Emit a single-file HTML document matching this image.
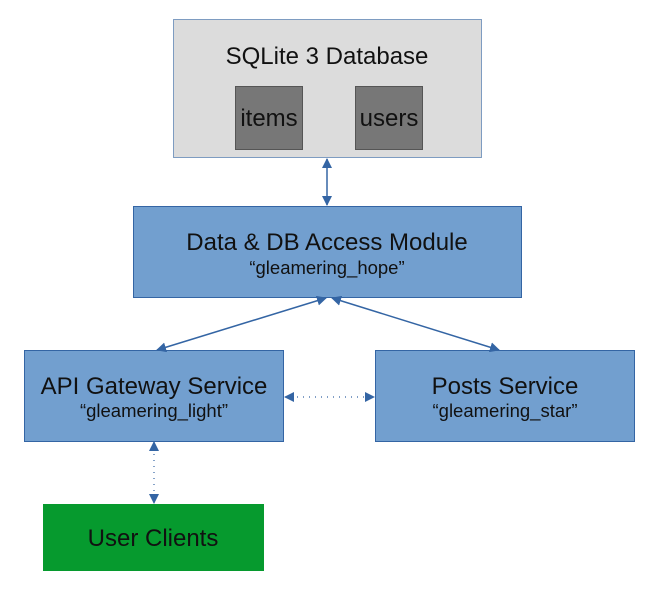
<!DOCTYPE html>
<html><head><meta charset="utf-8"><style>
html,body{margin:0;padding:0;background:#fff;}
svg{display:block;}
text{font-family:"Liberation Sans",sans-serif;fill:#111;}
</style></head><body>
<svg width="653" height="595" viewBox="0 0 653 595" xmlns="http://www.w3.org/2000/svg">
<defs>
<marker id="a" markerWidth="10" markerHeight="10" refX="9" refY="5" orient="auto-start-reverse" markerUnits="userSpaceOnUse">
<path d="M0,0 L10,5 L0,10 z" fill="#3465a4"/></marker>
</defs>
<rect x="173.5" y="19.5" width="308" height="138" fill="#dcdcdc" stroke="#3465a4" stroke-opacity="0.6"/>
<text x="327" y="64" font-size="24" text-anchor="middle">SQLite 3 Database</text>
<rect x="235.5" y="86.5" width="67" height="63" fill="#777" stroke="#555"/>
<rect x="355.5" y="86.5" width="67" height="63" fill="#777" stroke="#555"/>
<text x="269" y="126" font-size="24" text-anchor="middle">items</text>
<text x="389" y="126" font-size="24" text-anchor="middle">users</text>

<rect x="133.5" y="206.5" width="388" height="91" fill="#729fcf" stroke="#3465a4"/>
<text x="327" y="250" font-size="24" text-anchor="middle">Data &amp; DB Access Module</text>
<text x="327" y="274" font-size="18.5" text-anchor="middle">“gleamering_hope”</text>

<rect x="24.5" y="350.5" width="259" height="91" fill="#729fcf" stroke="#3465a4"/>
<text x="154" y="394" font-size="24" text-anchor="middle">API Gateway Service</text>
<text x="154" y="417" font-size="18.5" text-anchor="middle">“gleamering_light”</text>

<rect x="375.5" y="350.5" width="259" height="91" fill="#729fcf" stroke="#3465a4"/>
<text x="505" y="394" font-size="24" text-anchor="middle">Posts Service</text>
<text x="505" y="417" font-size="18.5" text-anchor="middle">“gleamering_star”</text>

<rect x="43" y="504" width="221" height="67" fill="#069a2e"/>
<text x="153" y="546" font-size="24" text-anchor="middle">User Clients</text>

<line x1="327" y1="159" x2="327" y2="205" stroke="#3465a4" stroke-width="1.5" marker-start="url(#a)" marker-end="url(#a)"/>
<line x1="326" y1="298" x2="157" y2="350" stroke="#3465a4" stroke-width="1.5" marker-start="url(#a)" marker-end="url(#a)"/>
<line x1="332" y1="298" x2="499" y2="350" stroke="#3465a4" stroke-width="1.5" marker-start="url(#a)" marker-end="url(#a)"/>
<line x1="285" y1="397" x2="374" y2="397" stroke="#3465a4" stroke-width="1.2" stroke-dasharray="1,5" marker-start="url(#a)" marker-end="url(#a)"/>
<line x1="154" y1="442" x2="154" y2="503" stroke="#3465a4" stroke-width="1.2" stroke-dasharray="1,5" marker-start="url(#a)" marker-end="url(#a)"/>
</svg>
</body></html>
